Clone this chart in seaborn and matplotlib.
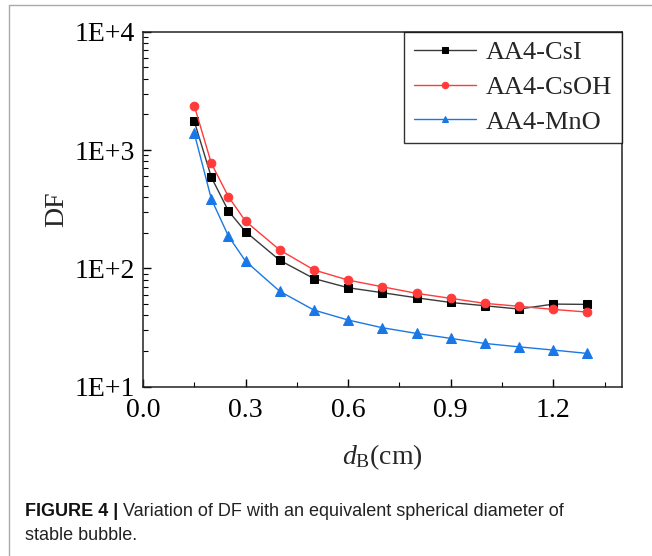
import numpy as np
import pandas as pd
import seaborn as sns
import matplotlib.pyplot as plt
from matplotlib.lines import Line2D
from matplotlib.ticker import FixedLocator, LogLocator, FuncFormatter, NullFormatter

# Data
d_b = [0.15, 0.2, 0.25, 0.3, 0.4, 0.5, 0.6, 0.7, 0.8, 0.9, 1.0, 1.1, 1.2, 1.3]
df_csi = [1750, 588, 305, 204, 117, 82, 68.6, 62.3, 56.4, 51.5, 48.3, 45.3, 49.9, 49.6]
df_csoh = [2370, 771, 403, 250, 143, 97, 79.6, 69.9, 61.5, 55.8, 50.6, 47.8, 45.0, 42.7]
df_mno = [1385, 385, 187, 115, 64, 44.4, 36.6, 31.5, 28.2, 25.6, 23.2, 21.7, 20.4, 19.1]

series_names = ["AA4-CsI", "AA4-CsOH", "AA4-MnO"]
series_values = [df_csi, df_csoh, df_mno]
line_colors = ["#3a3a3a", "#ff3b3b", "#1a78e6"]
marker_colors = ["#000000", "#ff3b3b", "#1a78e6"]
markers = ["s", "o", "^"]
marker_sizes = [5.6, 6.2, 6.6]

sns.set_theme(style="ticks")
plt.rcParams["font.family"] = ["Liberation Serif", "DejaVu Serif"]
plt.rcParams["mathtext.fontset"] = "custom"
plt.rcParams["mathtext.rm"] = "Liberation Serif"
plt.rcParams["mathtext.it"] = "Liberation Serif:italic"

fig = plt.figure(figsize=(6.52, 5.56), dpi=100)
ax = fig.add_axes([0.2193, 0.3045, 0.9535 - 0.2193, 0.943 - 0.3045])

for name, vals, lc, mc, mk, ms in zip(series_names, series_values, line_colors,
                                      marker_colors, markers, marker_sizes):
    data = pd.DataFrame({"d": d_b, "DF": vals})
    sns.lineplot(data=data, x="d", y="DF", ax=ax, color=lc, linewidth=1.0,
                 marker=mk, markersize=ms, markerfacecolor=mc,
                 markeredgecolor=mc, label=name)

ax.set_yscale("log")
ax.set_ylim(10, 10000)
ax.set_xlim(0, 1.4)

ax.xaxis.set_major_locator(FixedLocator([0.0, 0.3, 0.6, 0.9, 1.2]))
ax.xaxis.set_minor_locator(FixedLocator([0.15, 0.45, 0.75, 1.05, 1.35]))
ax.xaxis.set_major_formatter(FuncFormatter(lambda v, p: f"{v:.1f}"))

ax.yaxis.set_major_locator(FixedLocator([10, 100, 1000, 10000]))
ax.yaxis.set_minor_locator(LogLocator(base=10, subs=np.arange(2, 10)))
ax.yaxis.set_minor_formatter(NullFormatter())
ax.yaxis.set_major_formatter(FuncFormatter(lambda v, p: f"1E+{int(round(np.log10(v)))}"))

ax.tick_params(which="both", direction="in", labelsize=20, colors="black")
ax.tick_params(which="major", length=6, width=1.0)
ax.tick_params(which="minor", length=3.5, width=0.8)
ax.tick_params(axis="x", which="major", pad=8)
ax.tick_params(axis="y", which="major", pad=6)
for s in ax.spines.values():
    s.set_color("#222222")
    s.set_linewidth(1.1)

ax.set_xlabel(r"$d_\mathrm{B}$(cm)", fontsize=20, labelpad=14)
ax.set_ylabel("DF", fontsize=20, labelpad=4)

leg = ax.legend(loc="upper right", borderaxespad=0, fontsize=19,
                frameon=True, fancybox=False, handlelength=2.35,
                handletextpad=0.4, borderpad=0.35, labelspacing=0.42,
                markerscale=0.75)
leg.get_frame().set_edgecolor("black")
leg.get_frame().set_linewidth(1.0)

# outer frame lines of the figure panel
fig.add_artist(Line2D([9 / 652, 9 / 652], [0, 1 - 5 / 556], color="#aaaaaa", lw=1.0))
fig.add_artist(Line2D([9 / 652, 1], [1 - 5 / 556, 1 - 5 / 556], color="#aaaaaa", lw=1.0))

cap_font = ["Liberation Sans", "DejaVu Sans"]
renderer = fig.canvas.get_renderer()
bold = fig.text(25 / 652, 1 - 511 / 556, "FIGURE 4 |", fontsize=13,
                fontweight="bold", family=cap_font, va="center", ha="left",
                color="#111111")
bb = bold.get_window_extent(renderer)
fig.text((bb.x1 + 5) / 652, 1 - 511 / 556,
         "Variation of DF with an equivalent spherical diameter of",
         fontsize=13, family=cap_font, va="center", ha="left", color="#222222")
fig.text(25 / 652, 1 - 536 / 556, "stable bubble.", fontsize=13,
         family=cap_font, va="center", ha="left", color="#222222")

fig.savefig("out.png", dpi=100)
